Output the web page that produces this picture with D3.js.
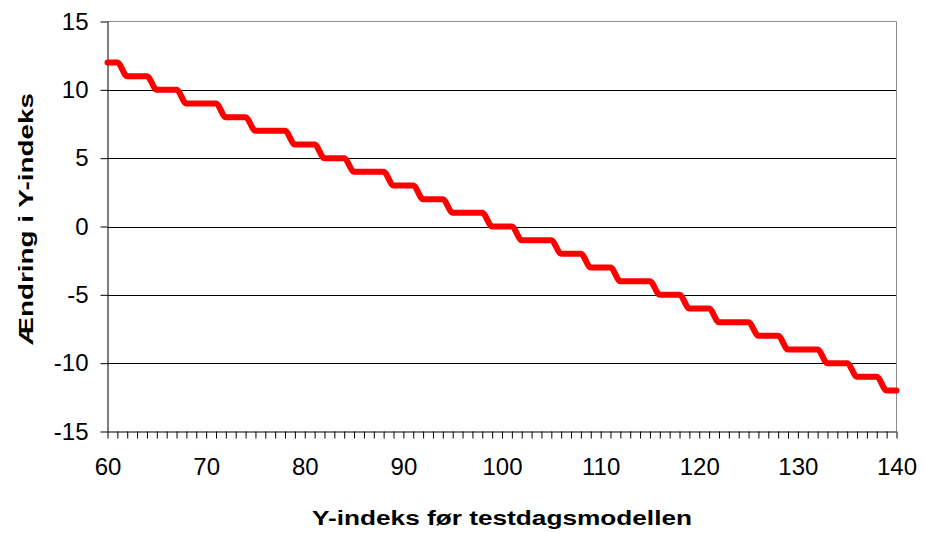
<!DOCTYPE html>
<html>
<head>
<meta charset="utf-8">
<script src="https://cdn.jsdelivr.net/npm/d3@7"></script>
<style>
  html, body { margin: 0; padding: 0; background: #fff; }
  svg { display: block; }
  text { font-family: "Liberation Sans", Arial, sans-serif; }
</style>
</head>
<body>
<div id="chart"></div>
<script>
// ---- data ----
const xValues = [60,61,62,63,64,65,66,67,68,69,70,71,72,73,74,75,76,77,78,79,80,
  81,82,83,84,85,86,87,88,89,90,91,92,93,94,95,96,97,98,99,100,
  101,102,103,104,105,106,107,108,109,110,111,112,113,114,115,116,117,118,119,120,
  121,122,123,124,125,126,127,128,129,130,131,132,133,134,135,136,137,138,139,140];
const changeValues = [12,12,11,11,11,10,10,10,9,9,9,9,8,8,8,7,7,7,7,6,6,
  6,5,5,5,4,4,4,4,3,3,3,2,2,2,1,1,1,1,0,0,
  0,-1,-1,-1,-1,-2,-2,-2,-3,-3,-3,-4,-4,-4,-4,-5,-5,-5,-6,-6,
  -6,-7,-7,-7,-7,-8,-8,-8,-9,-9,-9,-9,-10,-10,-10,-11,-11,-11,-12,-12];
const xTickLabels = [60,70,80,90,100,110,120,130,140];
const yTickValues = [-15,-10,-5,0,5,10,15];
const xTitle = "Y-indeks før testdagsmodellen";
const yTitle = "Ændring i Y-indeks";

// ---- layout ----
const W = 925, H = 533;
const L = 107.5, R = 896.5, T = 21.5, B = 431.5;

const svg = d3.select("#chart").append("svg").attr("width", W).attr("height", H);

const x = d3.scaleLinear().domain([60, 140]).range([L, R]);
const y = d3.scaleLinear().domain([-15, 15]).range([B, T]);

// horizontal gridlines
svg.append("g").selectAll("line")
  .data(yTickValues.filter(v => v > -15 && v < 15))
  .join("line")
  .attr("x1", L).attr("x2", R)
  .attr("y1", d => Math.round(y(d)) + 0.5).attr("y2", d => Math.round(y(d)) + 0.5)
  .attr("stroke", "#000").attr("stroke-width", 1);

// plot border top and right (gray)
svg.append("line").attr("x1", L).attr("x2", R).attr("y1", T).attr("y2", T)
  .attr("stroke", "#8c8c8c").attr("stroke-width", 1);
svg.append("line").attr("x1", R).attr("x2", R).attr("y1", T).attr("y2", B)
  .attr("stroke", "#8c8c8c").attr("stroke-width", 1);

// x axis
const xTicks = d3.range(60, 141, 1);
const xAxis = d3.axisBottom(x)
  .tickValues(xTicks)
  .tickSize(7)
  .tickPadding(19)
  .tickFormat(d => xTickLabels.includes(d) ? String(d) : "");
const gx = svg.append("g").attr("transform", `translate(0,${B})`).call(xAxis);
gx.select(".domain").attr("stroke", "#000").attr("d", `M${L},0.5H${R}`);
gx.selectAll(".tick line").attr("stroke", "#000");
gx.selectAll(".tick text")
  .attr("font-size", 24).attr("fill", "#000")
  .attr("font-family", "Liberation Sans, Arial, sans-serif");

// y axis
const yAxis = d3.axisLeft(y)
  .tickValues(yTickValues)
  .tickSize(7)
  .tickPadding(12)
  .tickFormat(d => String(d));
const gy = svg.append("g").attr("transform", `translate(${L},0)`).call(yAxis);
gy.select(".domain").attr("stroke", "#000").attr("d", `M0.5,${T}V${B}`);
gy.selectAll(".tick line").attr("stroke", "#000");
gy.selectAll(".tick text")
  .attr("font-size", 24).attr("fill", "#000")
  .attr("font-family", "Liberation Sans, Arial, sans-serif");

// data line
const pts = xValues.map((v, i) => [v, changeValues[i]]);
const line = d3.line()
  .x(d => x(d[0]))
  .y(d => y(d[1]))
  .curve(d3.curveMonotoneX);
svg.append("path")
  .datum(pts)
  .attr("d", line)
  .attr("fill", "none")
  .attr("stroke", "#ff0000")
  .attr("stroke-width", 6)
  .attr("stroke-linejoin", "round")
  .attr("stroke-linecap", "round");

// axis titles
svg.append("text")
  .attr("x", (L + R) / 2)
  .attr("y", 525)
  .attr("text-anchor", "middle")
  .attr("font-size", 20)
  .attr("font-weight", "bold")
  .attr("textLength", 380)
  .attr("lengthAdjust", "spacingAndGlyphs")
  .text(xTitle);

svg.append("text")
  .attr("transform", `translate(33,219) rotate(-90)`)
  .attr("text-anchor", "middle")
  .attr("font-size", 21)
  .attr("font-weight", "bold")
  .attr("textLength", 252)
  .attr("lengthAdjust", "spacingAndGlyphs")
  .text(yTitle);
</script>
</body>
</html>
